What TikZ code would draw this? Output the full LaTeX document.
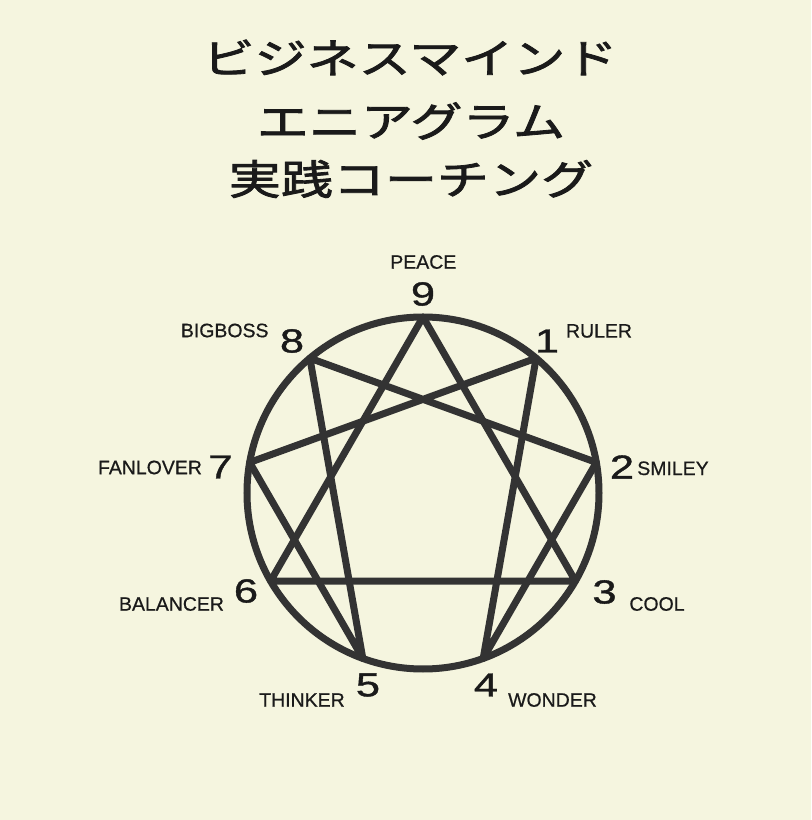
\documentclass[tikz,border=0pt]{standalone}
\usepackage{fontspec}
\setmainfont{Liberation Sans}
\newfontfamily\jpfont[FakeStretch=1.27,FakeBold=2]{Noto Sans CJK JP}
\newfontfamily\digitfont[FakeStretch=1.3,FakeBold=1.2]{Liberation Sans}
\newfontfamily\namefont[FakeBold=0.6]{Liberation Sans}
\definecolor{paper}{RGB}{245,245,223}
\definecolor{ink}{RGB}{51,51,51}
\definecolor{textink}{RGB}{26,26,26}

\begin{document}
\begin{tikzpicture}[x=0.75pt,y=0.75pt,
  titleline/.style={font=\jpfont\fontsize{30.75}{30.75}\selectfont,text=textink,inner sep=0pt},
  digit/.style={font=\digitfont\fontsize{25}{25}\selectfont,text=textink,inner sep=0pt},
  typename/.style={font=\namefont\fontsize{14.6}{14.6}\selectfont,text=textink,inner sep=0pt},
  ennealine/.style={draw=ink,line width=5.25pt,line join=round}]

  % Paper
  \fill[paper] (-423,-327) rectangle (388,493);

  % Title
  \node[titleline] (title1) at (-13,435.5) {ビジネスマインド};
  \node[titleline] (title2) at (-12,372) {エニアグラム};
  \node[titleline] (title3) at (-12,314) {実践コーチング};

  % Points on the circle, 9 on top, going clockwise
  \coordinate (centre) at (0,0);
  \foreach \n in {1,...,9} {
    \coordinate (p\n) at ({90-40*\n}:176);
  }

  % Circle, triangle and hexad
  \draw[ennealine] (centre) circle[radius=176];
  \draw[ennealine] (p9) -- (p3) -- (p6) -- cycle;
  \draw[ennealine] (p1) -- (p4) -- (p2) -- (p8) -- (p5) -- (p7) -- cycle;

  % Numbers and type names
  \foreach \n/\dx/\dy/\lab/\lx/\ly in {
      9/0/199/PEACE/0.3/231,
      1/124/152/RULER/176/162,
      2/199/26/SMILEY/250/24.7,
      3/181.5/-99/COOL/234/-111,
      4/63/-192/WONDER/129.5/-207,
      5/-55/-192/THINKER/-121/-207,
      6/-177/-98/BALANCER/-251.5/-111,
      7/-202.5/26/FANLOVER/-273/25.5,
      8/-131/152/BIGBOSS/-198.3/162.5} {
    \node[digit] (d\n) at (\dx,\dy) {\n};
    \node[typename] (t\n) at (\lx,\ly) {\lab};
  }
\end{tikzpicture}
\end{document}
